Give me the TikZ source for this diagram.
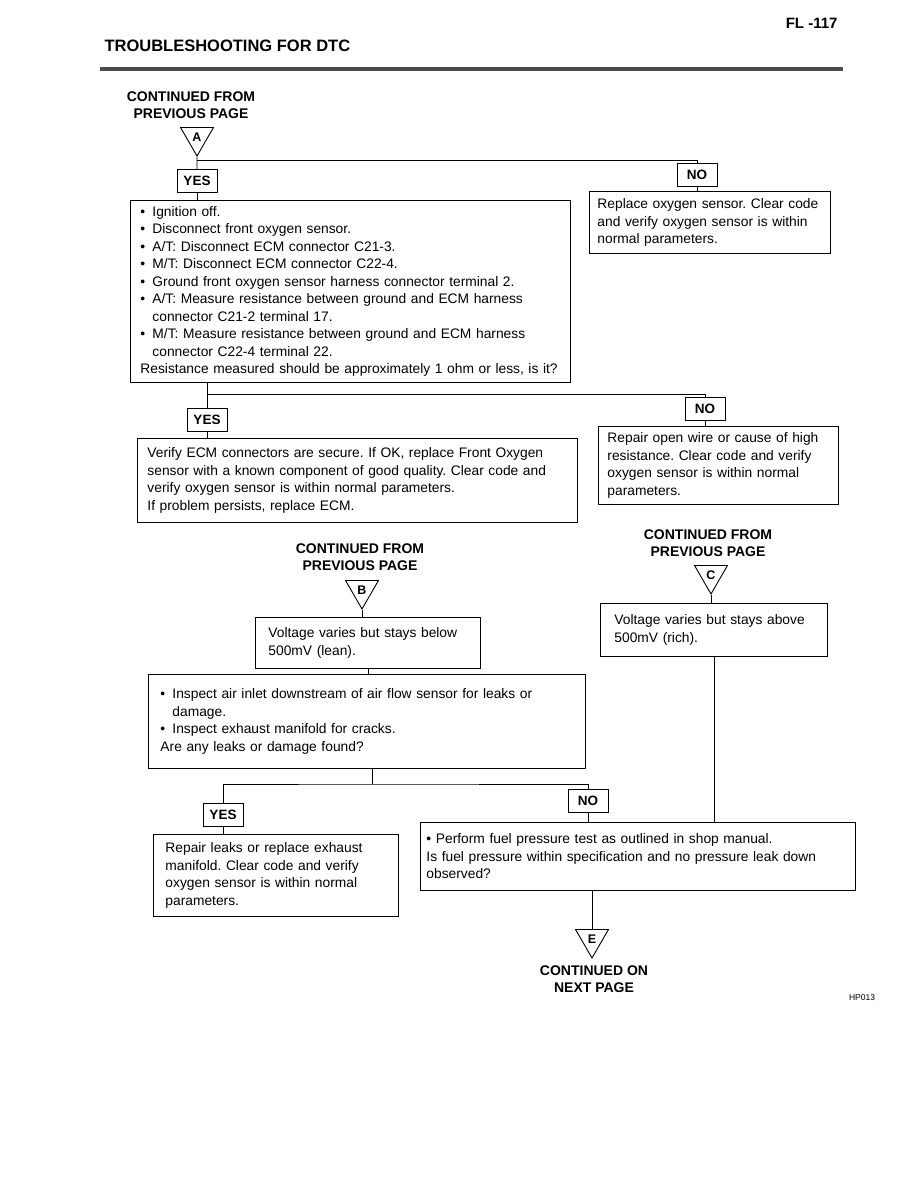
\documentclass[tikz,border=0pt]{standalone}
\usepackage{fontspec}
\setmainfont{Liberation Sans}
\usetikzlibrary{shapes.geometric}
\newcommand\bul{\makebox[12pt][l]{\textbullet}}
\newcommand\ind{\hspace*{12pt}}
\begin{document}
\frenchspacing
\begin{tikzpicture}[x=1pt,y=-1pt,
 box/.style={draw, line width=0.9pt, anchor=north west, align=left, inner xsep=10pt, inner ysep=2pt, font=\fontsize{13.8}{17.5}\selectfont\frenchspacing},
 lab/.style={draw, line width=0.9pt, font=\fontsize{13.5}{14}\selectfont\bfseries, minimum width=40pt, minimum height=23pt, inner sep=0pt},
 cont/.style={align=center, font=\fontsize{14}{16.5}\selectfont\bfseries},
 tri/.style={draw, line width=0.9pt, regular polygon, regular polygon sides=3, shape border rotate=180, minimum size=38pt, inner sep=0pt, font=\fontsize{12.5}{13}\selectfont\bfseries},
 wire/.style={line width=0.9pt}]
\fill[white] (0,0) rectangle (918,1188);
\useasboundingbox (0,0) rectangle (918,1188);

% header
\node[anchor=east, font=\fontsize{15}{16}\selectfont\bfseries] (page) at (841,23) {FL -117};
\node[anchor=west, font=\fontsize{16.5}{18}\selectfont\bfseries] (title) at (101,46) {TROUBLESHOOTING FOR DTC};
\draw[line width=3.5pt, black!70] (100,69) -- (843,69);

% section A
\node[cont] (cA) at (191,105) {CONTINUED FROM\\PREVIOUS PAGE};
\node[tri] (tA) at (197,137) {A};
\node[lab] (yes1) at (197,181) {YES};
\node[lab] (no1) at (697,175) {NO};
\coordinate (b1) at (197,160);
\draw[wire] (tA.south) -- (yes1.north);
\draw[wire] (b1) -| (no1.north);

\node[box, text width=420pt, minimum height=182pt] (box1) at (130,200) {%
\bul Ignition off.\\
\bul Disconnect front oxygen sensor.\\
\bul A/T: Disconnect ECM connector C21-3.\\
\bul M/T: Disconnect ECM connector C22-4.\\
\bul Ground front oxygen sensor harness connector terminal 2.\\
\bul A/T: Measure resistance between ground and ECM harness\\
\ind connector C21-2 terminal 17.\\
\bul M/T: Measure resistance between ground and ECM harness\\
\ind connector C22-4 terminal 22.\\
Resistance measured should be approximately 1 ohm or less, is it?};
\node[box, inner xsep=8pt, text width=225pt, minimum height=62pt] (r1) at (589,191) {Replace oxygen sensor. Clear code\\and verify oxygen sensor is within\\normal parameters.};
\draw[wire] (yes1.south) -- (yes1.south |- box1.north);
\draw[wire] (no1.south) -- (no1.south |- r1.north);

% branch 2
\coordinate (b2) at (207,394);
\node[lab] (yes2) at (207,420) {YES};
\node[lab] (no2) at (705,409) {NO};
\draw[wire] (box1.south -| b2) -- (yes2.north);
\draw[wire] (b2) -| (no2.north);
\node[box, text width=420pt, minimum height=84pt] (box2) at (137,438) {%
Verify ECM connectors are secure. If OK, replace Front Oxygen\\
sensor with a known component of good quality. Clear code and\\
verify oxygen sensor is within normal parameters.\\
If problem persists, replace ECM.};
\node[box, inner xsep=9pt, text width=222pt, minimum height=78pt] (r2) at (598,426) {Repair open wire or cause of high\\resistance. Clear code and verify\\oxygen sensor is within normal\\parameters.};
\draw[wire] (yes2.south) -- (yes2.south |- box2.north);
\draw[wire] (no2.south) -- (no2.south |- r2.north);

% section B
\node[cont] (cB) at (360,557) {CONTINUED FROM\\PREVIOUS PAGE};
\node[tri] (tB) at (362,590) {B};
\node[box, inner xsep=13pt, text width=199pt, minimum height=51pt] (boxB) at (255,617) {Voltage varies but stays below\\500mV (lean).};
\draw[wire] (tB.south) -- (tB.south |- boxB.north);

% section C
\node[cont] (cC) at (708,543) {CONTINUED FROM\\PREVIOUS PAGE};
\node[tri] (tC) at (711,575) {C};
\node[box, inner xsep=14pt, text width=199pt, minimum height=53pt] (boxC) at (600,603) {Voltage varies but stays above\\500mV (rich).};
\draw[wire] (tC.south) -- (tC.south |- boxC.north);

% box 3
\node[box, inner xsep=12pt, text width=413pt, minimum height=94pt] (box3) at (148,674) {%
\bul Inspect air inlet downstream of air flow sensor for leaks or\\
\ind damage.\\
\bul Inspect exhaust manifold for cracks.\\
Are any leaks or damage found?};
\draw[wire] (boxB.south) -- (boxB.south |- box3.north);

% branch 3
\coordinate (b3) at (372,784);
\node[lab] (yes3) at (223,815) {YES};
\node[lab] (no3) at (588,801) {NO};
\draw[wire] (box3.south -| b3) -- (b3);
\draw[wire] (yes3.north) |- (b3) -| (no3.north);
\node[box, inner xsep=12pt, text width=221pt, minimum height=82pt] (box4) at (153,834) {Repair leaks or replace exhaust\\manifold. Clear code and verify\\oxygen sensor is within normal\\parameters.};
\node[box, inner xsep=6pt, text width=423pt, minimum height=68pt] (box5) at (420,822) {%
\textbullet\ Perform fuel pressure test as outlined in shop manual.\\
Is fuel pressure within specification and no pressure leak down\\
observed?};
\draw[wire] (yes3.south) -- (yes3.south |- box4.north);
\draw[wire] (no3.south) -- (no3.south |- box5.north);
\draw[wire] (boxC.south) -- (boxC.south |- box5.north);

% section E
\node[tri] (tE) at (592,939) {E};
\draw[wire] (tE.north |- box5.south) -- (tE.north);
\node[cont] (cE) at (594,979) {CONTINUED ON\\NEXT PAGE};
\node[font=\fontsize{8.5}{10}\selectfont] (hp) at (862,998) {HP013};
\end{tikzpicture}
\end{document}
